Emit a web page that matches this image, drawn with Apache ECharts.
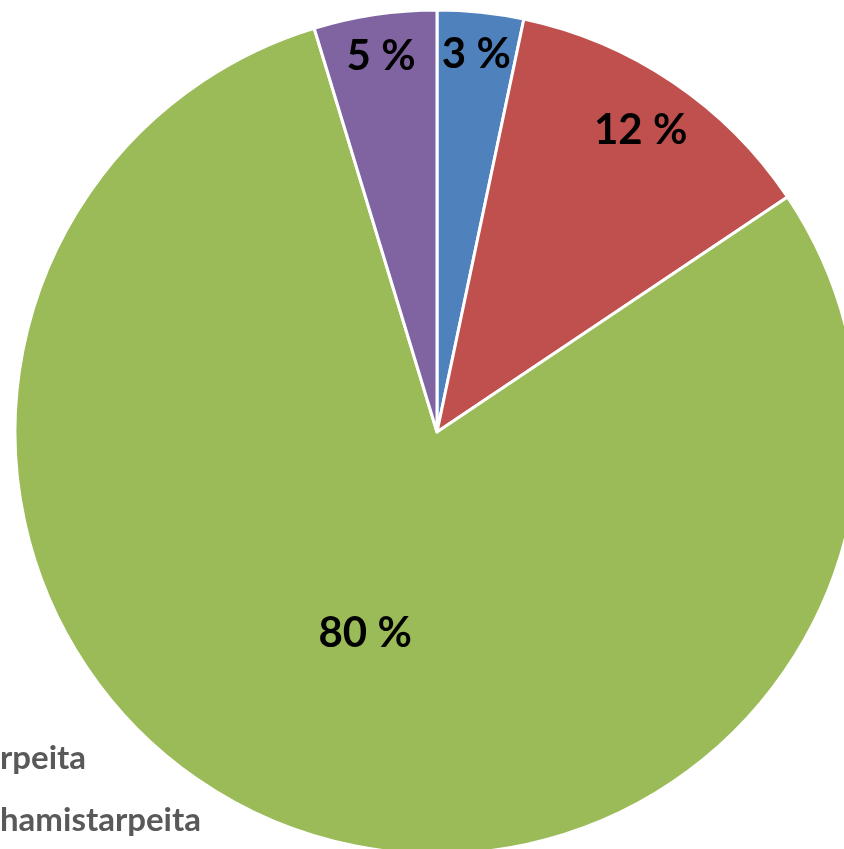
<!DOCTYPE html>
<html>
<head>
<meta charset="utf-8">
<script src="https://cdn.jsdelivr.net/npm/echarts@6/dist/echarts.min.js"></script>
<style>
  html, body { margin: 0; padding: 0; background: #fff; }
  #chart { width: 844px; height: 849px; }
</style>
</head>
<body>
<div id="chart"></div>
<script>
// slice names (only the tail of the first two legend entries is visible)
const categories = ['rpeita', 'hamistarpeita', 'c', 'd'];
const values = [3.3, 12.3, 79.7, 4.7];
const colors = ['#4F81BD', '#C0504D', '#9BBB59', '#8064A2'];

const chart = echarts.init(document.getElementById('chart'));

const labelFont = {
  color: '#000',
  fontFamily: 'Lato',
  fontWeight: 'bold',
  fontSize: 42
};
const fmt = p => Math.round(p.percent) + ' %';

// same slices, but only some of them labelled (used for the label rings)
const withLabels = shown => categories.map((name, i) => ({
  name: name,
  value: values[i],
  label: { show: shown.indexOf(i) >= 0 }
}));

// main pie: draws slices, only the big slice gets its label here
const mainData = categories.map((name, i) => ({
  name: name,
  value: values[i],
  itemStyle: { color: colors[i] },
  label: { show: i === 2 }
}));

// transparent rings on top, just to put the small slice labels near the rim
const ring = (radius, shown) => ({
  type: 'pie',
  center: [437, 432],
  radius: radius,
  startAngle: 90,
  clockwise: true,
  silent: true,
  data: withLabels(shown),
  itemStyle: { color: 'rgba(0,0,0,0)', borderWidth: 0 },
  label: Object.assign({ position: 'inside', formatter: fmt }, labelFont),
  labelLine: { show: false },
  emphasis: { disabled: true },
  legendHoverLink: false
});

chart.setOption({
  animation: false,
  legend: {
    orient: 'vertical',
    left: -6,
    top: 740,
    padding: 0,
    itemWidth: 0,
    itemHeight: 0,
    itemGap: 26,
    data: categories.slice(0, 2),
    textStyle: {
      color: '#595959',
      fontFamily: 'Lato',
      fontWeight: 'bold',
      fontSize: 33,
      lineHeight: 36
    }
  },
  series: [
    {
      type: 'pie',
      center: [437, 432],
      radius: 422,
      startAngle: 90,
      clockwise: true,
      data: mainData,
      itemStyle: { borderColor: '#fff', borderWidth: 3 },
      label: Object.assign({ position: 'inside', formatter: fmt }, labelFont),
      labelLine: { show: false },
      emphasis: { disabled: true }
    },
    ring([332, 422], [0, 3]),
    ring([300, 422], [1])
  ]
});
</script>
</body>
</html>
